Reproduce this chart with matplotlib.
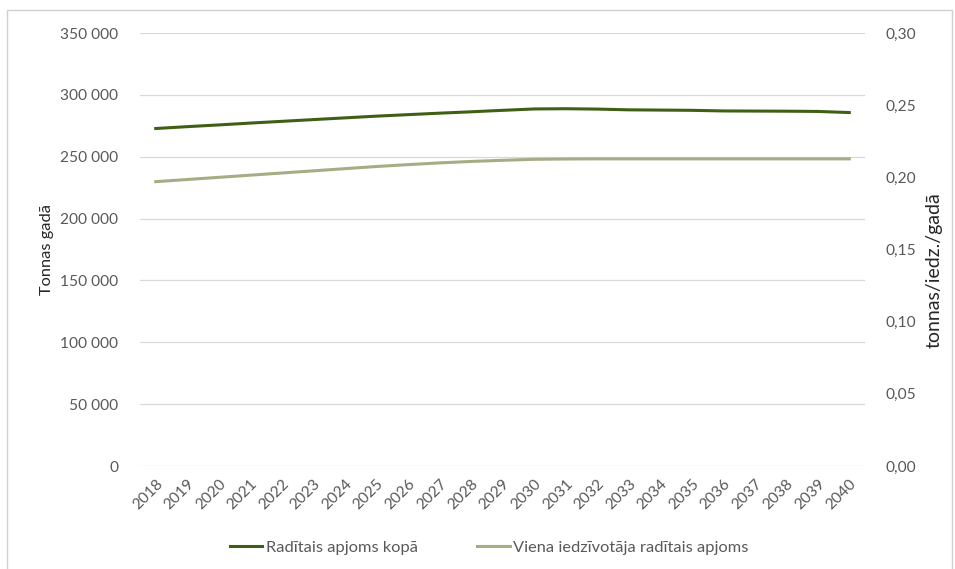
import numpy as np
import matplotlib.pyplot as plt
from matplotlib.ticker import FuncFormatter
from matplotlib.patches import Rectangle

plt.rcParams['font.family'] = ['Lato', 'DejaVu Sans']

# data
years = [str(y) for y in range(2018, 2041)]
total_t = [272800, 274300, 275700, 277200, 278600, 280000, 281400, 282800,
           284000, 285200, 286300, 287500, 288600, 288800, 288500, 287900,
           287700, 287500, 287000, 286900, 286800, 286600, 285700]
per_cap = [0.1970, 0.1985, 0.2000, 0.2015, 0.2030, 0.2045, 0.2060, 0.2075,
           0.2088, 0.2100, 0.2110, 0.2118, 0.2125, 0.2127, 0.2128, 0.2128,
           0.2128, 0.2128, 0.2128, 0.2128, 0.2128, 0.2128, 0.2128]

dark = '#3f5f16'
light = '#a5ad85'
txt = '#595959'

fig = plt.figure(figsize=(9.55, 5.69), dpi=100)
ax = fig.add_axes([0.1466, 0.181, 0.7592, 0.761])
ax2 = ax.twinx()

x = np.arange(len(years))
l1, = ax.plot(x, total_t, color=dark, lw=2.2, label='Radītais apjoms kopā')
l2, = ax2.plot(x, per_cap, color=light, lw=2.2, label='Viena iedzīvotāja radītais apjoms')

ax.set_ylim(0, 350000)
ax.set_yticks(np.arange(0, 350001, 50000))
ax.yaxis.set_major_formatter(FuncFormatter(lambda v, p: f'{int(v):,}'.replace(',', ' ')))
ax2.set_ylim(0, 0.30)
ax2.set_yticks(np.arange(0, 0.301, 0.05))
ax2.yaxis.set_major_formatter(FuncFormatter(lambda v, p: f'{v:.2f}'.replace('.', ',')))

ax.set_xlim(-0.5, len(years) - 0.5)
ax.set_xticks(x)
ax.set_xticklabels(years, rotation=45, ha='right', rotation_mode='anchor')

ax.grid(axis='y', color='#d9d9d9', lw=0.9)
ax.set_axisbelow(True)
for a in (ax, ax2):
    for s in a.spines.values():
        s.set_visible(False)
    a.tick_params(length=0, colors=txt, labelsize=11.2)
ax.tick_params(axis='y', pad=15.8)
ax2.tick_params(axis='y', pad=14.4)
ax.tick_params(axis='x', pad=8)

ax.set_ylabel('Tonnas gadā', color='#262626', fontsize=11.8)
ax2.set_ylabel('tonnas/iedz./gadā', color='#262626', fontsize=14, rotation=90)
ax.yaxis.set_label_coords(-86 / 725, 0.5)
ax2.yaxis.set_label_coords(1 + 61 / 725, 0.453)

fig.legend(handles=[l1, l2], loc='center', bbox_to_anchor=(0.512, 0.037), ncol=2,
           frameon=False, fontsize=11.8, labelcolor=txt, handlelength=2.0,
           handletextpad=0.2, columnspacing=3.6)

fig.patches.append(Rectangle((0.007, -0.01), 0.99, 0.993, transform=fig.transFigure,
                             fill=False, edgecolor='#d0d0d0', lw=1))

fig.savefig('out.png', dpi=100)
